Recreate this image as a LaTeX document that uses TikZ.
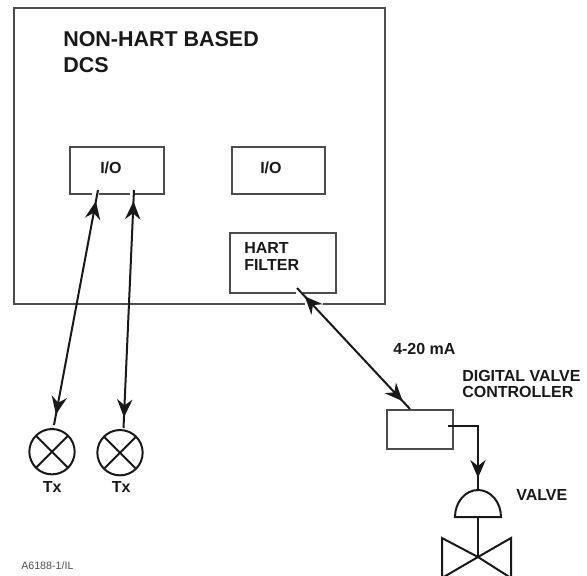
\documentclass[tikz,border=0pt]{standalone}
\usepackage{fontspec}
\setmainfont{Liberation Sans}
\usetikzlibrary{arrows.meta,decorations.markings}
\tikzset{
  >={Stealth[length=13.5pt,width=11.5pt,inset=4.5pt]},
  panel/.style={draw=black!70, line width=1.35pt, inner sep=0pt, outer sep=0pt, anchor=north west},
  label/.style={font=\bfseries, text=black!90, align=left, anchor=west, inner sep=0pt},
  heading/.style={label, font=\bfseries\fontsize{16.1}{19}\selectfont},
  small/.style={label, font=\bfseries\fontsize{12}{12.7}\selectfont},
  wire/.style={black!90, line width=1.5pt},
  gapline/.style={white, line width=2.4pt},
  twoway/.style={wire, postaction={decorate}, decoration={markings,
      mark=at position 22pt with {\arrow{<}},
      mark=at position -8pt with {\arrow{>}}}},
  tipend/.style={wire, postaction={decorate}, decoration={markings,
      mark=at position -9pt with {\arrow{>}}}},
  symbol/.style={black!90, line width=1.5pt, line join=miter}
}
\begin{document}
\begin{tikzpicture}[x=0.75pt,y=-0.75pt]
\useasboundingbox (0,0) rectangle (587,576);

% DCS box and the boxes in it
\node[panel, minimum width=278.25pt, minimum height=222pt] (dcs) at (14,8) {};
\node[panel, minimum width=70.5pt, minimum height=35.25pt] (ioa) at (70,147) {};
\node[panel, minimum width=69.75pt, minimum height=35.25pt] (iob) at (232,147) {};
\node[panel, minimum width=79.5pt, minimum height=45pt] (filter) at (230,233) {};
\node[panel, minimum width=49.5pt, minimum height=29.25pt] (dvc) at (387,410) {};

% texts
\node[heading] (title) at (63,52) {NON-HART BASED\\DCS};
\node[small] (ioatext) at (100,168) {I/O};
\node[small] (iobtext) at (260,168) {I/O};
\node[small] (filtertext) at (244,256.5) {HART\\FILTER};
\node[small] (current) at (393,349) {4-20 mA};
\node[small] (dvctext) at (462,384) {DIGITAL VALVE\\CONTROLLER};
\node[small] (valvetext) at (516,495) {VALVE};
\node[small] (txa) at (42.5,487) {Tx};
\node[small] (txb) at (111.5,487) {Tx};
\node[label, font=\fontsize{8}{9}\selectfont, text=black!70] (tag) at (21,566) {A6188-1/IL};

% transmitters
\coordinate (circa) at (52,451.7);
\coordinate (circb) at (120,452.7);
\draw[symbol] (circa) circle[radius=17pt];
\draw[symbol] (circb) circle[radius=17pt];
\draw[symbol] ([shift={(-16,-16)}]circa) -- ([shift={(16,16)}]circa);
\draw[symbol] ([shift={(-16,16)}]circa) -- ([shift={(16,-16)}]circa);
\draw[symbol] ([shift={(-16,-16)}]circb) -- ([shift={(16,16)}]circb);
\draw[symbol] ([shift={(-16,16)}]circb) -- ([shift={(16,-16)}]circb);

% gaps in the box edges
\draw[gapline] (92,194) -- (98.5,194);
\draw[gapline] (130,194) -- (135,194);
\draw[gapline] (296,293) -- (303,293);
\draw[gapline] (305,304.5) -- (323,304.5);

% connectors
\coordinate (ioaend) at (98,190);
\coordinate (iobend) at (134,190);
\coordinate (filterend) at (297,288);
\coordinate (dvctop) at (410,409);
\coordinate (txaend) at (54,425);
\coordinate (txbend) at (123.5,428);
\draw[twoway] (ioaend) -- (txaend);
\draw[twoway] (iobend) -- (txbend);
\draw[twoway] (filterend) -- (dvctop);

% valve
\coordinate (dvcout) at (448,426);
\coordinate (dome) at (478,490);
\draw[tipend] (dvcout) -| (dome);
\draw[symbol] (455,517) arc[start angle=180, end angle=0, x radius=17.25pt, y radius=20.25pt] -- cycle;
\coordinate (body) at (478,557);
\draw[symbol] (478,517) -- (body);
\draw[symbol] (body) -- (442,538) -- (442,578) -- cycle;
\draw[symbol] (body) -- (511,538) -- (511,578) -- cycle;
\end{tikzpicture}
\end{document}
